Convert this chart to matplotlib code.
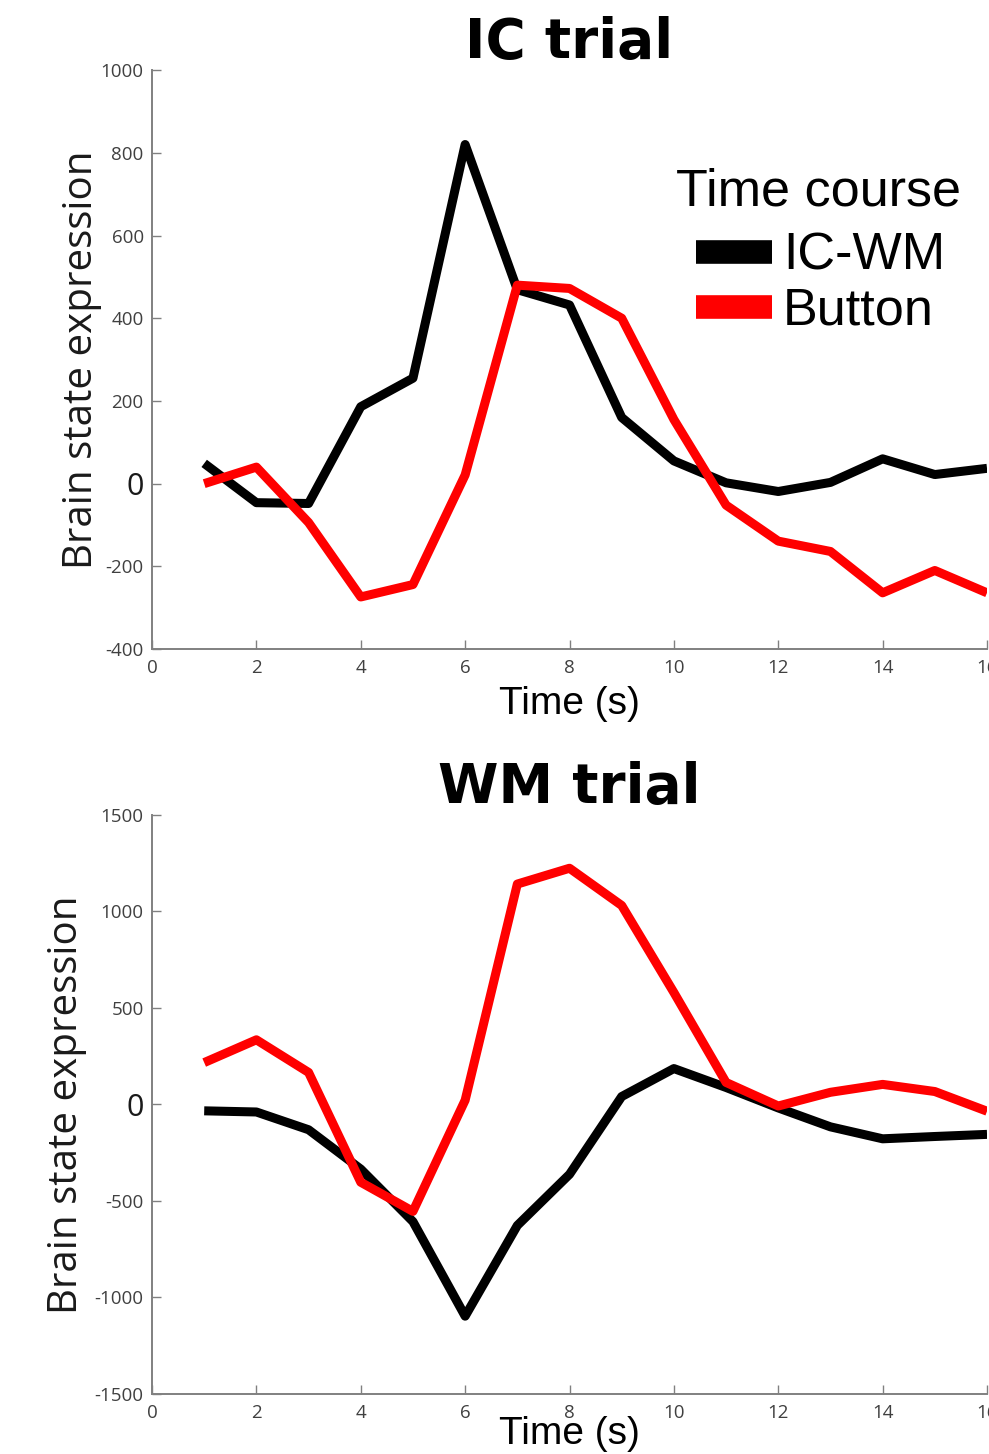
import matplotlib
matplotlib.use("Agg")
import matplotlib.pyplot as plt
from matplotlib.lines import Line2D

plt.rcParams['axes.unicode_minus'] = False

# time axis (s)
time_s = list(range(1, 17))

# IC trial
ic_icwm = [49, -46, -48, 186, 255, 820, 469, 432, 160, 55, 2, -19, 3, 60, 22, 37]
ic_button = [0, 40, -94, -274, -244, 21, 480, 472, 400, 155, -52, -139, -164, -264, -210, -264]

# WM trial
wm_icwm = [-33, -39, -131, -335, -607, -1097, -627, -362, 41, 186, 88, -18, -116, -178, -166, -155]
wm_button = [217, 335, 166, -403, -554, 22, 1142, 1224, 1031, 580, 114, -8, 63, 104, 67, -35]

xticks = list(range(0, 17, 2))
ic_yticks = list(range(-400, 1001, 200))
wm_yticks = list(range(-1500, 1501, 500))

series_names = ['IC-WM', 'Button']
series_colors = ['black', '#ff0000']

fig = plt.figure(figsize=(9.89, 14.54), dpi=100)
ax_ic = fig.add_axes([0.1537, 0.5536, 0.8443, 0.3982])
ax_wm = fig.add_axes([0.1537, 0.0413, 0.8443, 0.3982])

panels = [
    (ax_ic, 'IC trial', ic_icwm, ic_button, ic_yticks, -0.064, -0.060),
    (ax_wm, 'WM trial', wm_icwm, wm_button, wm_yticks, -0.038, -0.078),
]

for ax, title, icwm, button, yticks, xlab_y, ylab_x in panels:
    ax.plot(time_s, icwm, color=series_colors[0], lw=6.5, solid_capstyle='butt')
    ax.plot(time_s, button, color=series_colors[1], lw=6.5, solid_capstyle='butt')

    ax.set_xlim(0, 16)
    ax.set_ylim(yticks[0], yticks[-1])
    ax.set_xticks(xticks)
    ax.set_yticks(yticks)

    for s in ['top', 'right']:
        ax.spines[s].set_visible(False)
    for s in ['left', 'bottom']:
        ax.spines[s].set_color('#808080')
        ax.spines[s].set_linewidth(1.4)

    ax.tick_params(direction='in', length=6.5, width=1, color='#808080',
                   labelcolor='#404040', labelsize=13.5)
    ax.tick_params(axis='y', pad=6)
    ax.tick_params(axis='x', pad=7)
    for lab in ax.get_xticklabels() + ax.get_yticklabels():
        lab.set_family('Open Sans')

    # the zero tick on y is printed big
    for tick, val in zip(ax.yaxis.get_major_ticks(), yticks):
        if val == 0:
            tick.label1.set_fontsize(22)
            tick.label1.set_color('#1a1a1a')

    ax.set_title(title, fontsize=39.5, fontweight='bold', family='DejaVu Sans', pad=6)
    ax.set_xlabel('Time (s)', fontsize=28, family='Liberation Sans')
    ax.xaxis.set_label_coords(0.5, xlab_y)
    ax.set_ylabel('Brain state expression', fontsize=29, family='Open Sans', color='#1a1a1a')
    ax.yaxis.set_label_coords(ylab_x, 0.5)

# legend only on the IC panel, heading drawn as its own text
fig.text(819 / 989, 1 - 205 / 1454, 'Time course', ha='center', va='baseline',
         family='Liberation Sans', fontsize=37.5)
handles = [Line2D([], [], color=c, lw=17, solid_capstyle='butt') for c in series_colors]
leg = ax_ic.legend(handles, series_names,
                   prop={'family': 'Liberation Sans', 'size': 37.5},
                   frameon=False, loc='upper left',
                   bbox_to_anchor=(696 / 989, 1 - 232 / 1454), bbox_transform=fig.transFigure,
                   borderpad=0, borderaxespad=0, handlelength=1.46,
                   handletextpad=0.21, labelspacing=0.115)

fig.savefig('out.png', dpi=100)
